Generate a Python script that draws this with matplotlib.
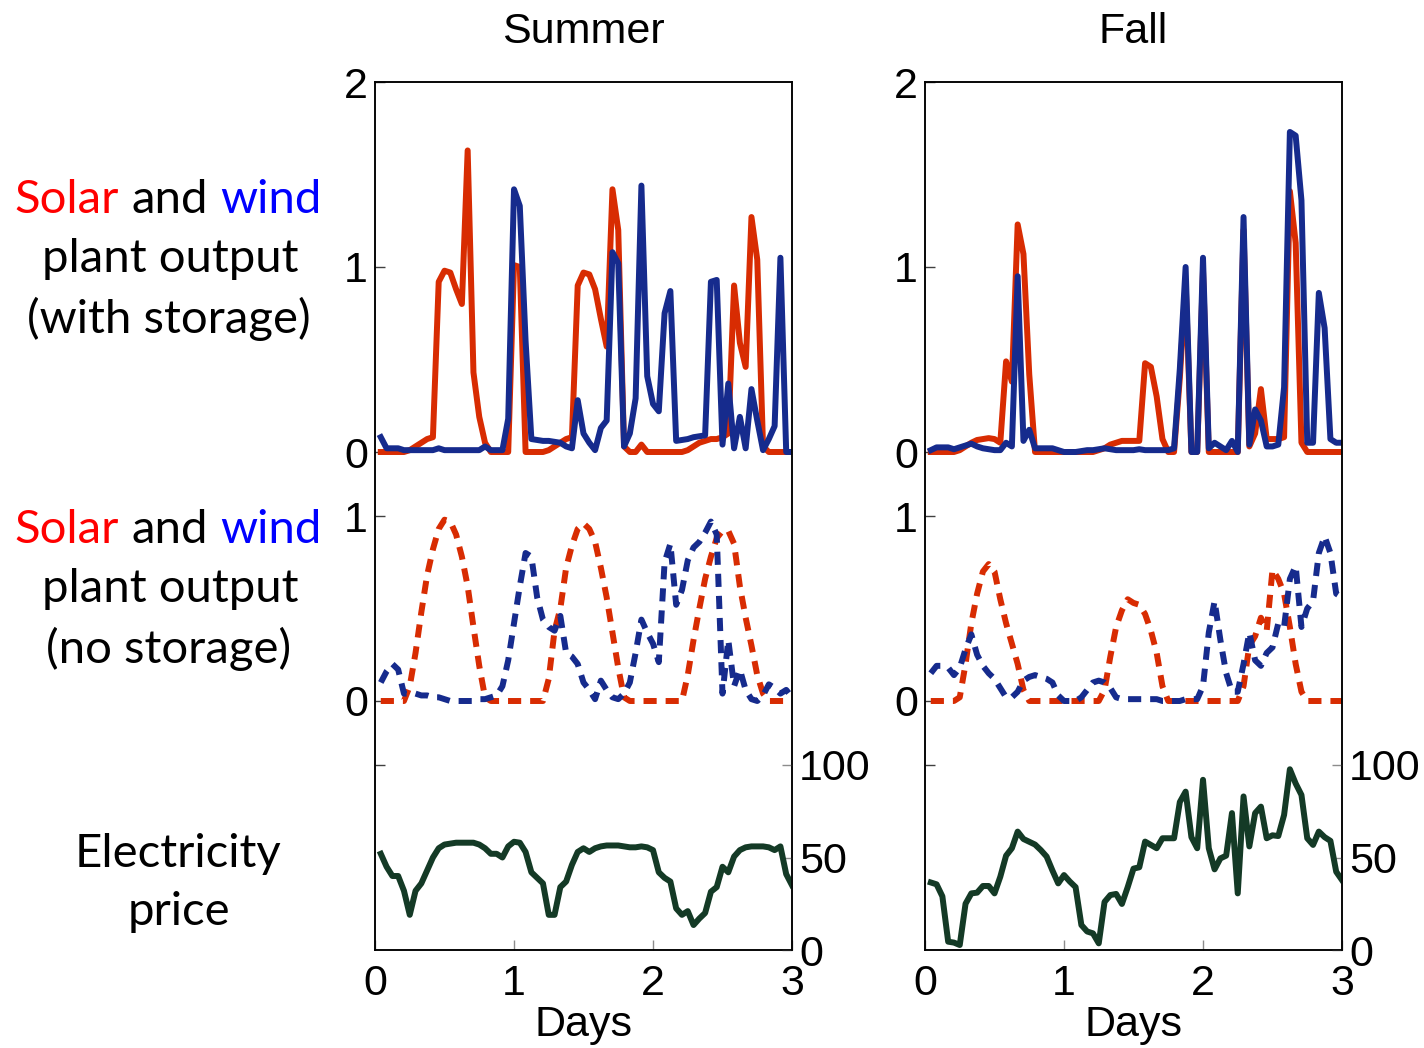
import numpy as np
import matplotlib
matplotlib.use("Agg")
import matplotlib.pyplot as plt

# hourly samples over three days
hours = np.arange(1, 73)
days = hours / 24.0

# ---- Summer ----
summer_solar_st = [0, 0, 0, 0, 0, 0.01, 0.03, 0.05, 0.07, 0.08, 0.92, 0.98, 0.97, 0.88, 0.80, 1.63,
                   0.43, 0.19, 0.05, 0, 0, 0, 0, 1.01, 1.0, 0, 0, 0, 0, 0.01, 0.03, 0.05, 0.07, 0.08,
                   0.9, 0.97, 0.96, 0.88, 0.72, 0.57, 1.42, 1.2, 0.03, 0, 0, 0.04, 0, 0, 0, 0, 0, 0,
                   0, 0.01, 0.03, 0.05, 0.06, 0.07, 0.07, 0.08, 0.1, 0.9, 0.59, 0.46, 1.27, 1.04,
                   0.03, 0, 0, 0, 0, 0]
summer_wind_st = [0.08, 0.02, 0.02, 0.02, 0.01, 0.01, 0.01, 0.01, 0.01, 0.01, 0.02, 0.01, 0.01, 0.01,
                  0.01, 0.01, 0.01, 0.01, 0.03, 0.01, 0.01, 0.01, 0.18, 1.42, 1.33, 0.6, 0.07, 0.065,
                  0.06, 0.06, 0.055, 0.05, 0.03, 0.02, 0.28, 0.1, 0.05, 0.01, 0.13, 0.17, 1.08, 1.02,
                  0.03, 0.1, 0.29, 1.44, 0.41, 0.26, 0.22, 0.75, 0.87, 0.06, 0.065, 0.07, 0.08, 0.085,
                  0.09, 0.92, 0.93, 0.04, 0.37, 0.02, 0.19, 0.02, 0.34, 0.17, 0.01, 0.07, 0.14, 1.05,
                  0.0, 0.0]
summer_solar_ns = [0, 0, 0, 0, 0, 0.08, 0.26, 0.48, 0.68, 0.82, 0.93, 0.98, 0.97, 0.9, 0.78, 0.62,
                   0.4, 0.19, 0.02, 0, 0, 0, 0, 0, 0, 0, 0, 0, 0, 0.12, 0.38, 0.5, 0.72, 0.84, 0.93,
                   0.96, 0.93, 0.86, 0.72, 0.56, 0.37, 0.18, 0.02, 0, 0, 0, 0, 0, 0, 0, 0, 0, 0,
                   0.14, 0.33, 0.5, 0.66, 0.78, 0.88, 0.92, 0.92, 0.85, 0.62, 0.45, 0.3, 0.14, 0.04,
                   0, 0, 0, 0, 0]
summer_wind_ns = [0.1, 0.16, 0.2, 0.17, 0.04, 0.04, 0.04, 0.03, 0.03, 0.02, 0.02, 0.01, 0.0, 0.0,
                  0.0, 0.0, 0.0, 0.01, 0.01, 0.02, 0.03, 0.08, 0.22, 0.42, 0.62, 0.8, 0.78, 0.56,
                  0.44, 0.4, 0.38, 0.46, 0.26, 0.24, 0.2, 0.1, 0.06, 0.01, 0.11, 0.06, 0.02, 0.01,
                  0.04, 0.1, 0.26, 0.44, 0.37, 0.31, 0.21, 0.75, 0.85, 0.52, 0.6, 0.76, 0.83, 0.86,
                  0.91, 0.97, 0.9, 0.04, 0.33, 0.08, 0.17, 0.06, 0.01, 0.0, 0.03, 0.09, 0.07, 0.04,
                  0.06, 0.02]
summer_price = [52, 45, 40, 40, 32, 19, 32, 36, 43, 50, 55, 57, 57.5, 58, 58, 58, 58, 57, 55, 52,
                52, 50, 56, 58.5, 58, 53, 42, 39, 36, 19, 19, 34, 37, 46, 53, 55, 53, 55, 56, 56.5,
                56.5, 56.5, 56, 55.5, 55.5, 56, 55.5, 54, 42, 39, 37, 22.5, 19, 21, 13.5, 17, 20,
                31.5, 34, 45, 42, 50.5, 54, 55.5, 56, 56, 56, 55.5, 54, 56, 41, 35]

# ---- Fall ----
fall_solar_st = [0, 0, 0, 0, 0, 0.01, 0.03, 0.05, 0.065, 0.07, 0.075, 0.07, 0.05, 0.49, 0.38, 1.23,
                 1.07, 0.42, 0, 0, 0, 0, 0, 0, 0, 0, 0, 0, 0, 0.01, 0.02, 0.04, 0.05, 0.06, 0.06,
                 0.06, 0.06, 0.48, 0.46, 0.3, 0.07, 0, 0, 0.4, 0.92, 0, 0, 0.98, 0, 0, 0, 0, 0, 0,
                 1.2, 0.03, 0.1, 0.34, 0.07, 0.07, 0.07, 0.08, 1.41, 1.13, 0.05, 0, 0, 0, 0, 0, 0, 0]
fall_wind_st = [0.01, 0.025, 0.025, 0.025, 0.015, 0.025, 0.035, 0.045, 0.03, 0.02, 0.015, 0.01,
                0.01, 0.05, 0.03, 0.95, 0.06, 0.12, 0.02, 0.02, 0.02, 0.02, 0.01, 0.0, 0.0, 0.0,
                0.005, 0.01, 0.01, 0.015, 0.02, 0.015, 0.01, 0.01, 0.01, 0.01, 0.015, 0.01, 0.01,
                0.01, 0.01, 0.01, 0.02, 0.45, 1.0, 0.0, 0.0, 1.05, 0.02, 0.05, 0.03, 0.01, 0.06,
                0.0, 1.27, 0.04, 0.23, 0.17, 0.03, 0.03, 0.04, 0.35, 1.73, 1.71, 1.36, 0.05, 0.05,
                0.86, 0.67, 0.07, 0.05, 0.05]
fall_solar_ns = [0, 0, 0, 0, 0, 0.02, 0.2, 0.42, 0.58, 0.7, 0.74, 0.7, 0.55, 0.42, 0.31, 0.2,
                 0.06, 0, 0, 0, 0, 0, 0, 0, 0, 0, 0, 0, 0, 0, 0.06, 0.24, 0.4, 0.49, 0.55, 0.53,
                 0.52, 0.47, 0.38, 0.26, 0.08, 0, 0, 0, 0, 0, 0, 0, 0, 0, 0, 0, 0, 0, 0.08, 0.3,
                 0.35, 0.45, 0.38, 0.71, 0.66, 0.58, 0.4, 0.2, 0.05, 0, 0, 0, 0, 0, 0, 0]
fall_wind_ns = [0.15, 0.19, 0.19, 0.18, 0.14, 0.18, 0.28, 0.36, 0.25, 0.19, 0.15, 0.12, 0.07, 0.02,
                0.02, 0.05, 0.11, 0.13, 0.14, 0.13, 0.12, 0.1, 0.03, 0.0, 0.0, 0.0, 0.02, 0.06,
                0.1, 0.11, 0.1, 0.07, 0.02, 0.01, 0.01, 0.01, 0.01, 0.01, 0.01, 0.01, 0.0, 0.0,
                0.0, 0.0, 0.01, 0.01, 0.01, 0.08, 0.37, 0.54, 0.33, 0.15, 0.05, 0.05, 0.2, 0.37,
                0.22, 0.19, 0.26, 0.29, 0.42, 0.4, 0.66, 0.73, 0.4, 0.5, 0.54, 0.8, 0.89, 0.8,
                0.58, 0.56]
fall_price = [36.5, 35.5, 29, 4.5, 4, 2.7, 25, 30.6, 31, 34.6, 34.6, 30.6, 39.6, 51, 55, 64, 60,
              58.5, 57, 54, 50.5, 43, 36, 40.5, 37, 34, 13.5, 10, 9, 3.6, 26, 29.7, 30.3, 24.9, 34,
              44, 44.7, 58.6, 56.8, 55, 60.4, 60.4, 60.4, 80, 85.6, 61, 55, 92, 55, 43.6, 49.5, 51,
              74, 30.6, 83, 56, 74, 77.5, 60.4, 62, 61.6, 73, 97.7, 90, 83.8, 60.4, 56.8, 64, 61,
              59, 42.3, 37.8]

seasons = ["Summer", "Fall"]
day_ticks = [0, 1, 2, 3]
price_ticks = [0, 50, 100]

RED = "#d82c02"
BLUE = "#162b8d"
GREEN = "#143a26"

# vertical layout (in "top axis" units, 1 unit = 185 px)
top_base = 498 / 185.0
mid_base = 249 / 185.0
y_top = 868 / 185.0

W, H = 1424, 1048
fig = plt.figure(figsize=(W / 100, H / 100), dpi=100)
tick_font = "Liberation Sans"
label_font = "Lato"
TICK_FS = 31

lefts = [375, 925]
data = [
    (summer_solar_st, summer_wind_st, summer_solar_ns, summer_wind_ns, summer_price),
    (fall_solar_st, fall_wind_st, fall_solar_ns, fall_wind_ns, fall_price),
]

for left, season, (s_st, w_st, s_ns, w_ns, price) in zip(lefts, seasons, data):
    ax = fig.add_axes([left / W, 98 / H, 417 / W, 868 / H])
    ax.plot(days, np.array(s_st) + top_base, color=RED, lw=4.3, solid_joinstyle="round")
    ax.plot(days, np.array(w_st) + top_base, color=BLUE, lw=4.3, solid_joinstyle="round")
    ax.plot(days, np.array(s_ns) + mid_base, color=RED, lw=4.3, dashes=(2.2, 1.5))
    ax.plot(days, np.array(w_ns) + mid_base, color=BLUE, lw=4.3, dashes=(2.2, 1.5))
    ax.set_xlim(0, 3)
    ax.set_ylim(0, y_top)
    ax.set_yticks([1.0, mid_base, mid_base + 1, top_base, top_base + 1, top_base + 2])
    ax.set_yticklabels(["", "0", "1", "0", "1", "2"])
    ax.set_xticks(day_ticks)
    ax.set_xticklabels([str(d) for d in day_ticks])
    ax.tick_params(axis="y", direction="in", length=7, width=1, color="0.25", pad=5,
                   labelsize=TICK_FS)
    ax.tick_params(axis="x", direction="in", length=7, width=1, color="0.55", pad=10,
                   labelsize=TICK_FS)
    for lab in ax.get_xticklabels() + ax.get_yticklabels():
        lab.set_fontfamily(tick_font)
    for sp in ax.spines.values():
        sp.set_linewidth(1.1)

    ax2 = ax.twinx()
    ax2.plot(days, price, color=GREEN, lw=4.3)
    ax2.set_ylim(0, y_top * 100)
    ax2.set_yticks(price_ticks)
    ax2.set_yticklabels([str(p) for p in price_ticks])
    ax2.tick_params(axis="y", direction="in", length=7, width=1, color="0.55", pad=5,
                    labelsize=TICK_FS)
    for lab in ax2.get_yticklabels():
        lab.set_fontfamily(tick_font)
    for sp in ax2.spines.values():
        sp.set_linewidth(1.1)

    cx = (left + 417 / 2) / W
    fig.text(cx, 1 - 32 / H, season, ha="center", va="center", fontsize=TICK_FS, family=tick_font)
    fig.text(cx, 1 - 1025 / H, "Days", ha="center", va="center", fontsize=TICK_FS, family=tick_font)

# row labels on the left, with coloured words
renderer = fig.canvas.get_renderer()
LAB_FS = 34


def colored_line(pieces, cx, baseline):
    texts = []
    for s, c in pieces:
        t = fig.text(0, 1 - baseline / H, s, color=c, fontsize=LAB_FS, family=label_font,
                     va="baseline", ha="left")
        texts.append(t)
    widths = [t.get_window_extent(renderer).width for t in texts]
    probe1 = fig.text(0, 0, "a a", fontsize=LAB_FS, family=label_font)
    probe2 = fig.text(0, 0, "aa", fontsize=LAB_FS, family=label_font)
    sw = probe1.get_window_extent(renderer).width - probe2.get_window_extent(renderer).width
    probe1.remove()
    probe2.remove()
    total = sum(widths) + sw * (len(texts) - 1)
    x = cx - total / 2
    for t, w in zip(texts, widths):
        t.set_x(x / W)
        x += w + sw


for base in (213, 543):
    colored_line([("Solar", "#ff0000"), ("and", "black"), ("wind", "#0000ff")], 168, base)
colored_line([("plant output", "black")], 170, 272)
colored_line([("(with storage)", "black")], 169, 333)
colored_line([("plant output", "black")], 170, 602)
colored_line([("(no storage)", "black")], 169, 663)
colored_line([("Electricity", "black")], 178, 867)
colored_line([("price", "black")], 179, 925)

fig.savefig("out.png", dpi=100)
